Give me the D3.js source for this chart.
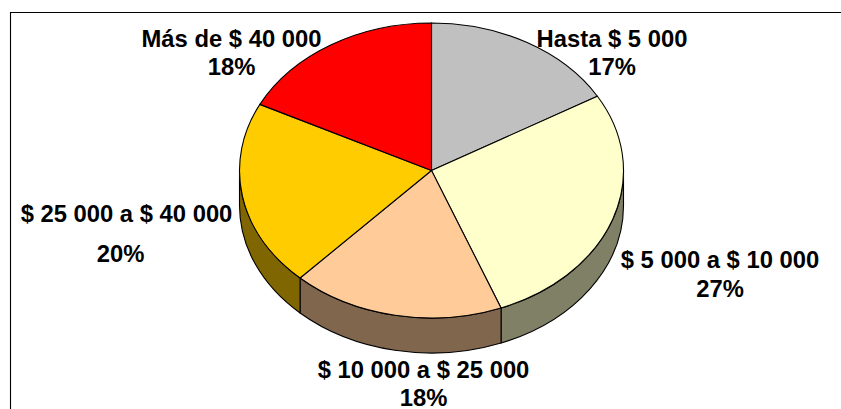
<!DOCTYPE html>
<html><head><meta charset="utf-8">
<script src="https://cdn.jsdelivr.net/npm/d3@7/dist/d3.min.js"></script>
<style>html,body{margin:0;padding:0;background:#fff}svg{display:block}
text{font-family:"Liberation Sans",Arial,sans-serif;font-weight:bold;font-size:23.8px;fill:#000;text-anchor:middle}</style>
</head><body><svg id="c" width="841" height="409"></svg>
<script>
const categories = ["Hasta $ 5 000","$ 5 000 a $ 10 000","$ 10 000 a $ 25 000","$ 25 000 a $ 40 000","Más de $ 40 000"];
const values = [16.6,27.5,17.9,20.4,17.6];
const percentLabels = ["17%","27%","18%","20%","18%"];
const topColors = ["#C0C0C0","#FFFFCC","#FFCC99","#FFCC00","#FF0000"];
const sideColors = ["#606060","#808066","#80664D","#806600","#800000"];
const labelX = [612,720,423.5,126.5,231.5];
const labelX2 = [612,720,423.5,120.5,231.5];
const labelY = [47,268,378,222,47];
const labelY2 = [75,297,406,262,75];

const cx=431.5, cy=170.5, rx=192, ry=147.5, depth=35;
const svg=d3.select("#c");
svg.append("path").attr("d","M10.5,409V12.5H841").attr("fill","#fff").attr("stroke","#000").attr("stroke-width",1.1);

const arcs=d3.pie().sort(null)(values);
const px=a=>cx+rx*Math.sin(a), py=a=>cy-ry*Math.cos(a);
const lo=Math.PI/2, hi=3*Math.PI/2;
arcs.forEach((d,i)=>{
  const a=Math.max(d.startAngle,lo), b=Math.min(d.endAngle,hi);
  if(b<=a) return;
  svg.append("path").attr("fill",sideColors[i]).attr("stroke","#000").attr("stroke-width",1.1)
   .attr("d",`M${px(a)},${py(a)}A${rx},${ry} 0 0 1 ${px(b)},${py(b)}L${px(b)},${py(b)+depth}A${rx},${ry} 0 0 0 ${px(a)},${py(a)+depth}Z`);
});
const arc=d3.arc().innerRadius(0).outerRadius(rx);
const g=svg.append("g").attr("transform",`translate(${cx},${cy}) scale(1,${ry/rx})`);
g.selectAll("path").data(arcs).join("path").attr("d",arc)
 .attr("fill",(d,i)=>topColors[i]).attr("stroke","#000").attr("stroke-width",1.1)
 .attr("vector-effect","non-scaling-stroke");
categories.forEach((c,i)=>{
  svg.append("text").attr("x",labelX[i]).attr("y",labelY[i]).text(c);
  svg.append("text").attr("x",labelX2[i]).attr("y",labelY2[i]).text(percentLabels[i]);
});
</script></body></html>
